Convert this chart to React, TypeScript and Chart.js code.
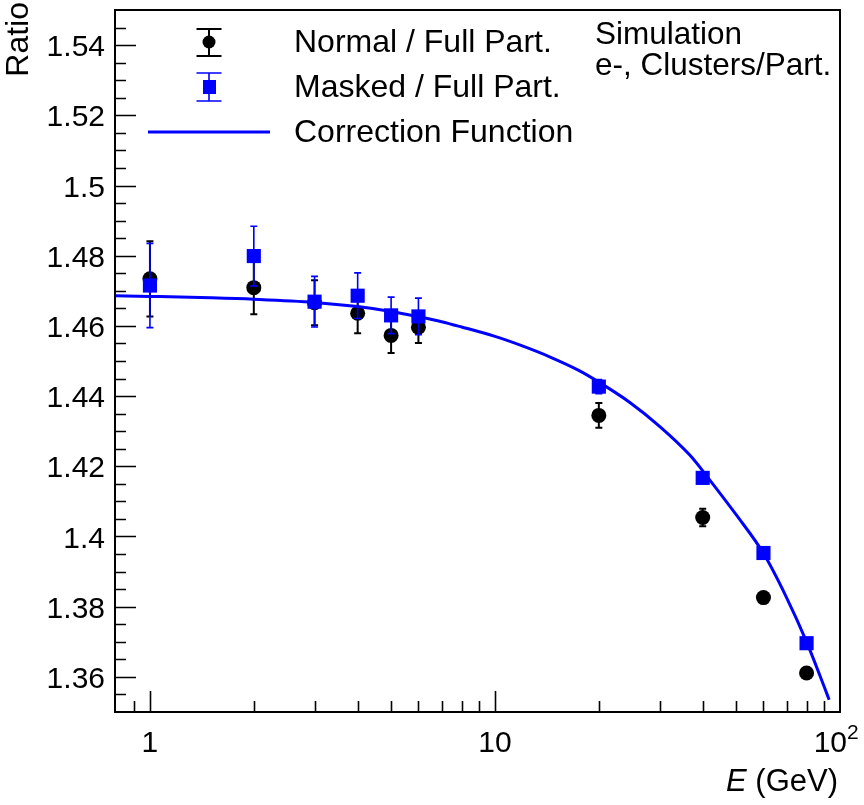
import React, { useEffect, useRef } from "react";
import { Chart, registerables } from "chart.js";

Chart.register(...registerables);

// ---- data ----
const energies = [1, 2, 3, 4, 5, 6, 20, 40, 60, 80];
const normalRatio = [1.4734, 1.4709, 1.4666, 1.4636, 1.4573, 1.4596, 1.4345, 1.4054, 1.3826, 1.3611];
const normalErr = [0.0107, 0.0076, 0.0064, 0.0057, 0.005, 0.0045, 0.0035, 0.0025, 0.001, 0.001];
const maskedRatio = [1.4715, 1.4799, 1.4669, 1.4686, 1.463, 1.4627, 1.4427, 1.4167, 1.3953, 1.3696];
const maskedErr = [0.012, 0.0085, 0.0072, 0.0065, 0.0052, 0.0052, 0.002, 0.0015, 0.001, 0.001];

const fitE = [0.79, 1, 1.5, 2, 3, 4, 5, 6, 7, 8, 10, 12, 14.4, 17.6, 20, 24.6, 30, 36.7, 42, 50, 60, 70, 80, 90, 93];
const fitRatio = [
  1.4686, 1.4684, 1.468, 1.4676, 1.4667, 1.4655, 1.4641, 1.4626, 1.4612, 1.4597, 1.457, 1.4543,
  1.4512, 1.4472, 1.4440, 1.4382, 1.4314, 1.4232, 1.4160, 1.4062, 1.3952, 1.3826, 1.37, 1.3572, 1.3535,
];

const yMajorTicks = [1.36, 1.38, 1.4, 1.42, 1.44, 1.46, 1.48, 1.5, 1.52, 1.54];
const yTickLabels = ["1.36", "1.38", "1.4", "1.42", "1.44", "1.46", "1.48", "1.5", "1.52", "1.54"];
const yMinorStep = 0.005;
const xMajorTicks = [1, 10, 100];
const xTickLabels = ["1", "10", "10^2"];
const xMinorTicks = [0.9, 2, 3, 4, 5, 6, 7, 8, 9, 20, 30, 40, 50, 60, 70, 80, 90];

const legendLabels = ["Normal / Full Part.", "Masked / Full Part.", "Correction Function"];
const infoLines = ["Simulation", "e-, Clusters/Part."];

const BLUE = "#0000ff";
const FONT = "'Liberation Sans', Arial, Helvetica, sans-serif";

function drawErrBar(ctx: CanvasRenderingContext2D, x: number, yTop: number, yBot: number, cap: number) {
  ctx.beginPath();
  ctx.moveTo(x, yTop);
  ctx.lineTo(x, yBot);
  ctx.moveTo(x - cap, yTop);
  ctx.lineTo(x + cap, yTop);
  ctx.moveTo(x - cap, yBot);
  ctx.lineTo(x + cap, yBot);
  ctx.stroke();
}

const rootPlugin = {
  id: "rootStyle",
  beforeDatasetDraw(chart: any, args: any) {
    const ds = chart.data.datasets[args.index];
    const errs: number[] | undefined = ds.errs;
    if (!errs) return;
    const ctx = chart.ctx as CanvasRenderingContext2D;
    const xs = chart.scales.x;
    const ys = chart.scales.y;
    ctx.save();
    ctx.strokeStyle = ds.backgroundColor;
    ctx.lineWidth = ds.errWidth;
    ds.data.forEach((p: any, i: number) => {
      const px = xs.getPixelForValue(p.x);
      drawErrBar(ctx, px, ys.getPixelForValue(p.y + errs[i]), ys.getPixelForValue(p.y - errs[i]), 3.5);
    });
    ctx.restore();
  },
  afterDraw(chart: any) {
    const ctx = chart.ctx as CanvasRenderingContext2D;
    const { left, right, top, bottom } = chart.chartArea;
    const xs = chart.scales.x;
    const ys = chart.scales.y;
    ctx.save();
    ctx.strokeStyle = "#000";
    ctx.fillStyle = "#000";
    ctx.lineWidth = 2;
    ctx.strokeRect(left, top, right - left, bottom - top);

    // y ticks
    ctx.lineWidth = 1.6;
    ctx.beginPath();
    const yMin = ys.min, yMax = ys.max;
    const nMinor = Math.round((yMax - yMin) / yMinorStep);
    for (let k = 1; k < nMinor; k++) {
      const v = yMin + k * yMinorStep;
      const py = Math.round(ys.getPixelForValue(v)) + 0.5;
      const isMajor = yMajorTicks.some((t) => Math.abs(t - v) < 1e-6);
      ctx.moveTo(left, py);
      ctx.lineTo(left + (isMajor ? 21 : 11), py);
    }
    // x ticks
    xMajorTicks.forEach((v) => {
      if (v >= xs.max) return;
      const px = Math.round(xs.getPixelForValue(v)) + 0.5;
      ctx.moveTo(px, bottom);
      ctx.lineTo(px, bottom - 21);
    });
    xMinorTicks.forEach((v) => {
      const px = Math.round(xs.getPixelForValue(v)) + 0.5;
      ctx.moveTo(px, bottom);
      ctx.lineTo(px, bottom - 11);
    });
    ctx.stroke();

    // y labels
    ctx.font = `30px ${FONT}`;
    ctx.textAlign = "right";
    ctx.textBaseline = "alphabetic";
    yMajorTicks.forEach((v, i) => {
      ctx.fillText(yTickLabels[i], 105, ys.getPixelForValue(v) + 11);
    });

    // x labels
    xMajorTicks.forEach((v, i) => {
      const px = xs.getPixelForValue(v);
      const lab = xTickLabels[i];
      if (lab.includes("^")) {
        const [base, exp] = lab.split("^");
        ctx.font = `30px ${FONT}`;
        ctx.textAlign = "right";
        ctx.fillText(base, px + 7, 752);
        ctx.font = `21px ${FONT}`;
        ctx.textAlign = "left";
        ctx.fillText(exp, px + 7, 739);
      } else {
        ctx.font = `30px ${FONT}`;
        ctx.textAlign = "center";
        ctx.fillText(lab, px, 752);
      }
    });

    // axis titles
    ctx.font = `31px ${FONT}`;
    ctx.textAlign = "right";
    const unit = " (GeV)";
    const wUnit = ctx.measureText(unit).width;
    ctx.fillText(unit, 838, 791);
    ctx.font = `italic 31px ${FONT}`;
    ctx.fillText("E", 838 - wUnit, 791);

    ctx.save();
    ctx.translate(28, 2);
    ctx.rotate(-Math.PI / 2);
    ctx.font = `32px ${FONT}`;
    ctx.textAlign = "right";
    ctx.fillText("Ratio", 0, 0);
    ctx.restore();

    // info text
    ctx.font = `31.5px ${FONT}`;
    ctx.textAlign = "left";
    ctx.fillText(infoLines[0], 595, 44);
    ctx.fillText(infoLines[1], 595, 75);

    // legend
    ctx.font = `32px ${FONT}`;
    ctx.textAlign = "left";
    ctx.fillText(legendLabels[0], 294, 52);
    ctx.fillText(legendLabels[1], 294, 97);
    ctx.fillText(legendLabels[2], 294, 142);

    ctx.lineWidth = 2;
    ctx.strokeStyle = "#000";
    drawErrBar(ctx, 209, 29, 56, 12.5);
    ctx.beginPath();
    ctx.arc(209, 42, 6.5, 0, Math.PI * 2);
    ctx.fill();

    ctx.strokeStyle = BLUE;
    ctx.fillStyle = BLUE;
    ctx.lineWidth = 1.6;
    drawErrBar(ctx, 209, 73, 101, 12.5);
    ctx.fillRect(203, 80, 13, 14);

    ctx.lineWidth = 3;
    ctx.beginPath();
    ctx.moveTo(148, 132);
    ctx.lineTo(270, 132);
    ctx.stroke();

    ctx.restore();
  },
};

export default function App() {
  const canvasRef = useRef<HTMLCanvasElement | null>(null);

  useEffect(() => {
    const canvas = canvasRef.current;
    if (!canvas) return;
    const chart = new Chart(canvas, {
      type: "line",
      data: {
        datasets: [
          {
            label: legendLabels[2],
            data: fitE.map((e, i) => ({ x: e, y: fitRatio[i] })),
            borderColor: BLUE,
            borderWidth: 3,
            pointRadius: 0,
            cubicInterpolationMode: "monotone",
            fill: false,
          } as any,
          {
            label: legendLabels[1],
            data: energies.map((e, i) => ({ x: e, y: maskedRatio[i] })),
            showLine: false,
            pointStyle: "rect",
            pointRadius: 10,
            pointBorderWidth: 0,
            backgroundColor: BLUE,
            borderColor: BLUE,
            errs: maskedErr,
            errWidth: 1.6,
          } as any,
          {
            label: legendLabels[0],
            data: energies.map((e, i) => ({ x: e, y: normalRatio[i] })),
            showLine: false,
            pointStyle: "circle",
            pointRadius: 7.5,
            pointBorderWidth: 0,
            backgroundColor: "#000000",
            borderColor: "#000000",
            errs: normalErr,
            errWidth: 2,
          } as any,
        ],
      },
      options: {
        animation: false,
        responsive: false,
        devicePixelRatio: 1,
        layout: { padding: { left: 115, top: 3, right: 24, bottom: 93 } },
        plugins: { legend: { display: false }, tooltip: { enabled: false } },
        scales: {
          x: { type: "logarithmic", min: 0.792, max: 100, display: false },
          y: { type: "linear", min: 1.35, max: 1.55, display: false },
        },
      },
      plugins: [rootPlugin],
    });
    return () => chart.destroy();
  }, []);

  return (
    <div style={{ position: "absolute", left: 0, top: 0, width: 864, height: 805, background: "#fff" }}>
      <canvas ref={canvasRef} width={864} height={805} style={{ display: "block", width: 864, height: 805 }} />
    </div>
  );
}
